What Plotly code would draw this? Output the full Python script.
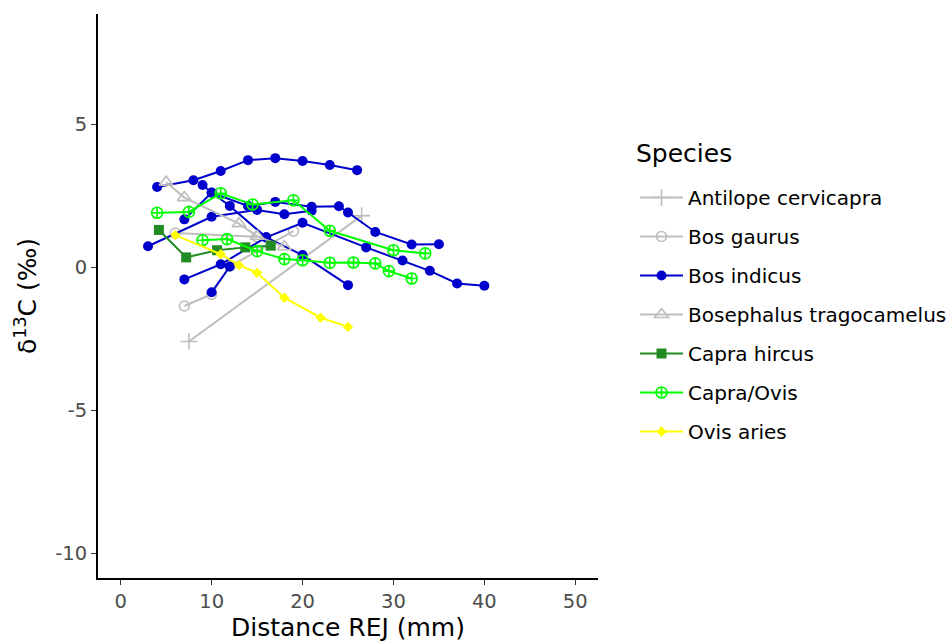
import plotly.graph_objects as go

# ---- data ----
species = ["Antilope cervicapra", "Bos gaurus", "Bos indicus",
           "Bosephalus tragocamelus", "Capra hircus", "Capra/Ovis", "Ovis aries"]

antilope_x = [[7.5, 26.5]]
antilope_y = [[-2.6, 1.8]]

gaurus_x = [[7, 10, 12, 19], [6, 15]]
gaurus_y = [[-1.36, -0.95, 0.03, 1.26], [1.19, 1.06]]

indicus_x = [
    [4, 8, 11, 14, 17, 20, 23, 26],
    [9, 10, 12, 16, 20, 25],
    [7, 10, 14, 17, 21, 24, 25, 28, 32, 35],
    [3, 10, 15, 18, 21],
    [7, 11, 16, 20, 27, 31, 34, 37, 40],
    [10, 12],
]
indicus_y = [
    [2.80, 3.04, 3.36, 3.74, 3.81, 3.71, 3.57, 3.39],
    [2.87, 2.61, 2.14, 1.04, 0.42, -0.63],
    [1.67, 2.60, 2.14, 2.28, 2.11, 2.13, 1.91, 1.23, 0.79, 0.80],
    [0.73, 1.76, 2.00, 1.85, 1.97],
    [-0.43, 0.10, 1.04, 1.55, 0.69, 0.23, -0.13, -0.57, -0.65],
    [-0.88, 0.02],
]

bosephalus_x = [[5, 7, 13, 15, 18]]
bosephalus_y = [[2.97, 2.43, 1.52, 1.08, 0.71]]

hircus_x = [[4.2, 7.2, 10.6, 13.7, 16.5]]
hircus_y = [[1.30, 0.34, 0.59, 0.69, 0.75]]

capraovis_x = [
    [4, 7.5, 11, 14.5, 19, 23, 30, 33.5],
    [9, 11.7, 15, 18, 20, 23, 25.6, 28, 29.5, 32],
]
capraovis_y = [
    [1.90, 1.93, 2.58, 2.19, 2.34, 1.27, 0.59, 0.48],
    [0.94, 0.98, 0.56, 0.28, 0.24, 0.15, 0.16, 0.13, -0.14, -0.40],
]

ovis_x = [[6, 11, 13, 15, 18, 22, 25]]
ovis_y = [[1.12, 0.45, 0.07, -0.20, -1.07, -1.77, -2.09]]

x_ticks = [0, 10, 20, 30, 40, 50]
y_ticks = [-10, -5, 0, 5]
y_ticklabels = ["-10", "-5", "0", "5"]

# ---- styles ----
styles = {
    "Antilope cervicapra": dict(color="#BEBEBE", symbol="cross-thin-open", size=12),
    "Bos gaurus": dict(color="#BEBEBE", symbol="circle-open", size=10),
    "Bos indicus": dict(color="#0000CD", symbol="circle", size=10),
    "Bosephalus tragocamelus": dict(color="#BEBEBE", symbol="triangle-up-open", size=12),
    "Capra hircus": dict(color="#228B22", symbol="square", size=10),
    "Capra/Ovis": dict(color="#00FF00", symbol="circle-cross-open", size=11),
    "Ovis aries": dict(color="#FFFF00", symbol="diamond", size=8),
}

data = {
    "Antilope cervicapra": (antilope_x, antilope_y),
    "Bos gaurus": (gaurus_x, gaurus_y),
    "Bos indicus": (indicus_x, indicus_y),
    "Bosephalus tragocamelus": (bosephalus_x, bosephalus_y),
    "Capra hircus": (hircus_x, hircus_y),
    "Capra/Ovis": (capraovis_x, capraovis_y),
    "Ovis aries": (ovis_x, ovis_y),
}

FONT = "DejaVu Sans"
fig = go.Figure()
for sp in species:
    st = styles[sp]
    xs, ys = data[sp]
    for i, (xx, yy) in enumerate(zip(xs, ys)):
        mk = dict(color=st["color"], symbol=st["symbol"], size=st["size"])
        if "open" in st["symbol"]:
            mk["line"] = dict(color=st["color"], width=1.6)
        fig.add_trace(go.Scatter(
            x=xx, y=yy, mode="lines+markers", name=sp,
            legendgroup=sp, showlegend=(i == 0),
            line=dict(color=st["color"], width=2),
            marker=mk,
        ))

fig.add_annotation(
    text="Species", xref="paper", yref="paper",
    x=(634 - 98) / 500, y=(578 - 153) / 564, xanchor="left", yanchor="middle",
    showarrow=False, font=dict(size=25, family=FONT, color="black"),
)

fig.update_layout(
    width=952, height=642,
    margin=dict(l=98, r=354, t=14, b=64, autoexpand=False),
    paper_bgcolor="white", plot_bgcolor="white",
    font=dict(family=FONT, color="black"),
    legend=dict(
        font=dict(size=20, family=FONT, color="black"),
        x=(635 - 98) / 500, xanchor="left", y=(578 - 178) / 564, yanchor="top",
        tracegroupgap=10, itemwidth=43,
        bgcolor="rgba(0,0,0,0)",
    ),
    xaxis=dict(
        range=[-2.5, 52.5], tickvals=x_ticks, ticks="outside", ticklen=5,
        tickcolor="#333333", tickwidth=1.3,
        showline=True, linecolor="black", linewidth=2,
        showgrid=False, zeroline=False,
        tickfont=dict(size=19.5, color="#4D4D4D", family=FONT),
        title=dict(text="Distance REJ (mm)", font=dict(size=25, family=FONT, color="black"), standoff=6),
    ),
    yaxis=dict(
        range=[-10.87, 8.85], tickvals=y_ticks, ticktext=y_ticklabels, ticks="outside", ticklen=5,
        tickcolor="#333333", tickwidth=1.3,
        showline=True, linecolor="black", linewidth=2,
        showgrid=False, zeroline=False,
        tickfont=dict(size=19.5, color="#4D4D4D", family=FONT),
        title=dict(text="δ<sup>13</sup>C (‰)", font=dict(size=25, family=FONT, color="black"), standoff=11),
    ),
)

fig.write_html("out.html")
